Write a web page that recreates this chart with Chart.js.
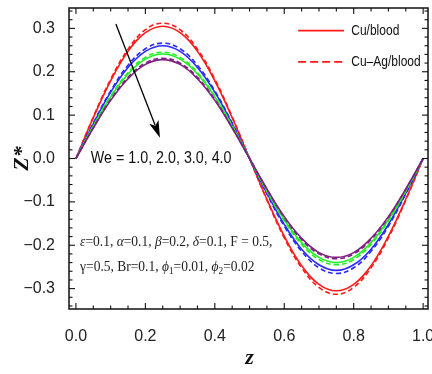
<!DOCTYPE html>
<html><head><meta charset="utf-8">
<script src="https://cdn.jsdelivr.net/npm/chart.js@4.4.1/dist/chart.umd.min.js"></script>
<style>html,body{margin:0;padding:0;background:#fff;}#wrap{width:432px;height:374px;}</style>
</head><body><div id="wrap"><canvas id="c" width="432" height="374"></canvas></div>
<script>
// ---- data ----
const zValues = [0,0.05,0.1,0.15,0.2,0.25,0.3,0.35,0.4,0.45,0.5,0.55,0.6,0.65,0.7,0.75,0.8,0.85,0.9,0.95,1.0];
const cuWe1   = [0,0.094,0.179,0.247,0.290,0.305,0.290,0.247,0.179,0.094,0,-0.094,-0.179,-0.247,-0.290,-0.305,-0.290,-0.247,-0.179,-0.094,0];
const cuAgWe1 = [0,0.096,0.183,0.252,0.297,0.312,0.297,0.252,0.183,0.096,0,-0.096,-0.183,-0.252,-0.297,-0.313,-0.297,-0.252,-0.183,-0.096,0];
const cuWe2   = [0,0.080,0.153,0.210,0.247,0.260,0.247,0.210,0.153,0.080,0,-0.080,-0.152,-0.209,-0.245,-0.258,-0.245,-0.209,-0.152,-0.080,0];
const cuAgWe2 = [0,0.082,0.156,0.215,0.253,0.266,0.253,0.215,0.156,0.082,0,-0.082,-0.156,-0.214,-0.252,-0.265,-0.252,-0.214,-0.156,-0.082,0];
const cuWe3   = [0,0.074,0.142,0.195,0.229,0.241,0.229,0.195,0.142,0.074,0,-0.074,-0.141,-0.194,-0.228,-0.240,-0.228,-0.194,-0.141,-0.074,0];
const cuAgWe3 = [0,0.076,0.144,0.198,0.233,0.245,0.233,0.198,0.144,0.076,0,-0.076,-0.144,-0.198,-0.233,-0.245,-0.233,-0.198,-0.144,-0.076,0];
const cuWe4   = [0,0.070,0.134,0.184,0.217,0.228,0.217,0.184,0.134,0.070,0,-0.070,-0.134,-0.184,-0.217,-0.228,-0.217,-0.184,-0.134,-0.070,0];
const cuAgWe4 = [0,0.071,0.136,0.187,0.220,0.231,0.220,0.187,0.136,0.071,0,-0.071,-0.136,-0.187,-0.220,-0.231,-0.220,-0.187,-0.136,-0.071,0];
const xTickValues = [0,0.2,0.4,0.6,0.8,1.0];
const yTickValues = [-0.3,-0.2,-0.1,0,0.1,0.2,0.3];
const xMinorStep = 0.05, yMinorStep = 0.02;
const legendLabels = ['Cu/blood','Cu\u2013Ag/blood'];
const weLabel = 'We = 1.0, 2.0, 3.0, 4.0';

const RED='#ff1a1a', BLUE='#2a2aff', GREEN='#22ee22', PURPLE='#7e1f82';
const pts = arr => arr.map((v,i)=>({x:zValues[i], y:v}));
function ds(label, data, color, dashed, order){
  return {label, data: pts(data), borderColor: color, backgroundColor: color, borderWidth: 1.6,
    borderDash: dashed ? [5,3] : [], pointRadius: 0, tension: 0.4, fill:false, order};
}
const datasets = [
  ds('Cu We=4', cuWe4, PURPLE, false, 1), ds('Cu-Ag We=4', cuAgWe4, PURPLE, true, 2),
  ds('Cu We=3', cuWe3, GREEN, false, 3), ds('Cu-Ag We=3', cuAgWe3, GREEN, true, 4),
  ds('Cu We=2', cuWe2, BLUE, false, 5), ds('Cu-Ag We=2', cuAgWe2, BLUE, true, 6),
  ds('Cu We=1', cuWe1, RED, false, 7), ds('Cu-Ag We=1', cuAgWe1, RED, true, 8)
];

const SANS = "'Liberation Sans',Arial,sans-serif";
const SERIF = "'Liberation Serif','Times New Roman',serif";
const fmt = v => { const s = Math.abs(v).toFixed(1); return (v < -1e-9 ? '\u2212' : '') + s; };

function narrowText(ctx, text, x, y, size, sx){
  ctx.save();
  ctx.font = size + 'px ' + SANS;
  ctx.translate(x, y); ctx.scale(sx || 0.82, 1);
  ctx.textAlign = 'left';
  ctx.fillText(text, 0, 0);
  ctx.restore();
}

const framePlugin = {
  id: 'frame',
  afterDraw(chart){
    const ctx = chart.ctx, a = chart.chartArea, xs = chart.scales.x, ys = chart.scales.y;
    ctx.save();
    ctx.strokeStyle = '#111'; ctx.lineWidth = 1.5;
    ctx.strokeRect(a.left, a.top, a.right - a.left, a.bottom - a.top);
    ctx.lineWidth = 1.1;
    const tick = (x1,y1,x2,y2)=>{ctx.beginPath();ctx.moveTo(x1,y1);ctx.lineTo(x2,y2);ctx.stroke();};
    for (let v = -0.05; v <= 1.05 + 1e-9; v += xMinorStep) {
      const vv = Math.round(v*100)/100;
      if (vv < xs.min || vv > xs.max) continue;
      const major = xTickValues.some(t => Math.abs(t - vv) < 1e-6);
      const L = major ? 6 : 3.5, px = xs.getPixelForValue(vv);
      tick(px, a.bottom, px, a.bottom - L); tick(px, a.top, px, a.top + L);
    }
    for (let v = -0.34; v <= 0.34 + 1e-9; v += yMinorStep) {
      const vv = Math.round(v*100)/100;
      if (vv < ys.min || vv > ys.max) continue;
      const major = yTickValues.some(t => Math.abs(t - vv) < 1e-6);
      const L = major ? 6 : 3.5, py = ys.getPixelForValue(vv);
      tick(a.left, py, a.left + L, py); tick(a.right, py, a.right - L, py);
    }
    // arrow
    const x1 = xs.getPixelForValue(0.115), y1 = ys.getPixelForValue(0.31);
    const x2 = xs.getPixelForValue(0.242), y2 = ys.getPixelForValue(0.048);
    const ang = Math.atan2(y2 - y1, x2 - x1), hl = 17, hw = 5;
    ctx.strokeStyle = '#000'; ctx.fillStyle = '#000'; ctx.lineWidth = 1.3;
    tick(x1, y1, x2 - Math.cos(ang)*hl*0.8, y2 - Math.sin(ang)*hl*0.8);
    ctx.beginPath();
    ctx.moveTo(x2, y2);
    ctx.lineTo(x2 - Math.cos(ang)*hl - Math.sin(ang)*hw, y2 - Math.sin(ang)*hl + Math.cos(ang)*hw);
    ctx.lineTo(x2 - Math.cos(ang)*hl*0.75, y2 - Math.sin(ang)*hl*0.75);
    ctx.lineTo(x2 - Math.cos(ang)*hl + Math.sin(ang)*hw, y2 - Math.sin(ang)*hl - Math.cos(ang)*hw);
    ctx.closePath(); ctx.fill();
    // We label
    ctx.fillStyle = '#111'; ctx.textBaseline = 'middle';
    narrowText(ctx, weLabel, xs.getPixelForValue(0.043), ys.getPixelForValue(0.0), 17, 0.84);
    // legend
    const lx1 = xs.getPixelForValue(0.64), lx2 = xs.getPixelForValue(0.772), tx = xs.getPixelForValue(0.793);
    const ly = [ys.getPixelForValue(0.295), ys.getPixelForValue(0.223)];
    ctx.strokeStyle = RED; ctx.lineWidth = 1.8;
    ctx.setLineDash([]); tick(lx1, ly[0], lx2, ly[0]);
    ctx.setLineDash([8,4]); tick(lx1, ly[1], lx2, ly[1]); ctx.setLineDash([]);
    narrowText(ctx, legendLabels[0], tx, ly[0], 15, 0.8);
    narrowText(ctx, legendLabels[1], tx, ly[1], 15, 0.8);
    // parameter lines
    const segs1 = [['\u03B5','i'],['=0.1, ','r'],['\u03B1','i'],['=0.1, ','r'],['\u03B2','i'],['=0.2, ','r'],['\u03B4','i'],['=0.1, F = 0.5,','r']];
    const segs2 = [['\u03B3=0.5, Br=0.1, ','r'],['\u03D5','i'],['1','s'],['=0.01, ','r'],['\u03D5','i'],['2','s'],['=0.02','r']];
    const drawSegs = (segs, x0, y) => {
      ctx.save(); ctx.translate(x0, y); ctx.scale(0.93, 1);
      ctx.textBaseline = 'alphabetic'; ctx.textAlign = 'left';
      let x = 0;
      for (const [t, k] of segs) {
        if (k === 's') { ctx.font = '10px ' + SERIF; ctx.fillText(t, x, 3); }
        else { ctx.font = (k === 'i' ? 'italic ' : '') + '14.5px ' + SERIF; ctx.fillText(t, x, 0); }
        x += ctx.measureText(t).width;
      }
      ctx.restore();
    };
    ctx.fillStyle = '#222';
    drawSegs(segs1, xs.getPixelForValue(0.012), ys.getPixelForValue(-0.202));
    drawSegs(segs2, xs.getPixelForValue(0.012), ys.getPixelForValue(-0.26));
    // axis titles
    ctx.fillStyle = '#111';
    ctx.font = 'italic bold 22px ' + SERIF; ctx.textAlign = 'center'; ctx.textBaseline = 'middle';
    ctx.fillText('z', xs.getPixelForValue(0.5), 358);
    ctx.save(); ctx.translate(22, ys.getPixelForValue(0.0)); ctx.rotate(-Math.PI/2);
    ctx.fillText('Z*', 0, 0); ctx.restore();
    ctx.restore();
  }
};

new Chart(document.getElementById('c'), {
  type: 'line',
  data: { datasets },
  options: {
    responsive: false, animation: false, devicePixelRatio: 1,
    layout: { padding: { left: 0, top: 8, right: 4, bottom: 0 } },
    plugins: { legend: { display: false }, tooltip: { enabled: false } },
    scales: {
      x: { type: 'linear', min: -0.02, max: 1.014,
        grid: { display: false }, border: { display: false },
        afterBuildTicks: s => { s.ticks = xTickValues.map(v => ({value: v})); },
        afterFit: s => { s.height = 65; s.paddingLeft = 0; s.paddingRight = 0; },
        ticks: { padding: 10, maxRotation: 0, color: '#222', font: { family: SANS, size: 16 }, callback: v => fmt(v) } },
      y: { type: 'linear', min: -0.347, max: 0.347,
        grid: { display: false }, border: { display: false },
        afterBuildTicks: s => { s.ticks = yTickValues.map(v => ({value: v})); },
        afterFit: s => { s.width = 69; s.paddingTop = 0; s.paddingBottom = 0; },
        ticks: { padding: 6, color: '#222', font: { family: SANS, size: 16 }, callback: v => fmt(v) } }
    }
  },
  plugins: [framePlugin]
});
</script></body></html>
